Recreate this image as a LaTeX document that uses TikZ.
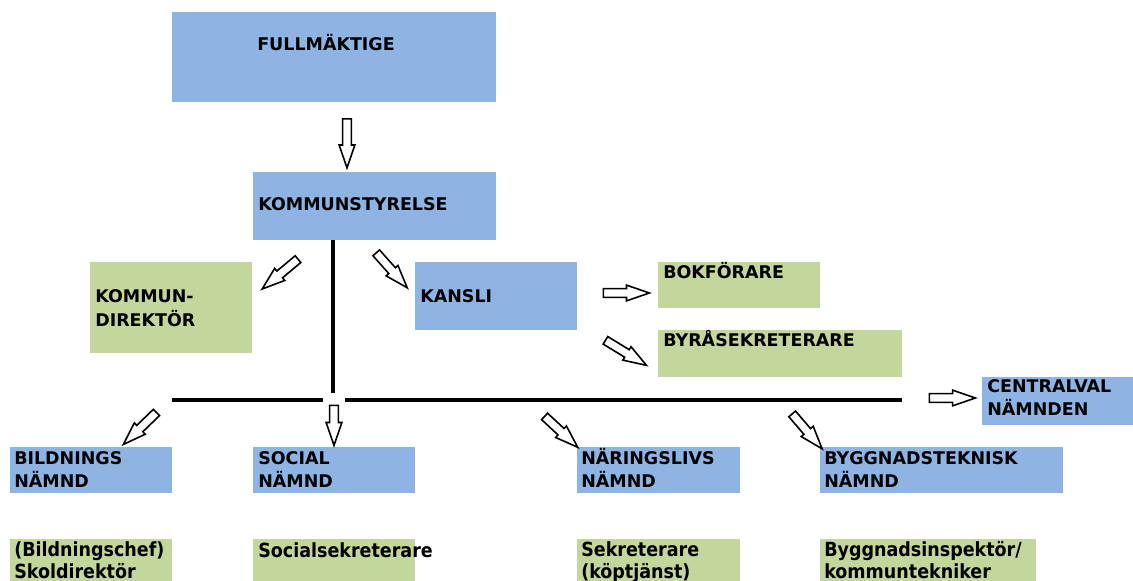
\documentclass[tikz,border=0pt]{standalone}
\usepackage{fontspec}
\setmainfont{DejaVu Sans}
\newfontfamily\condfont{DejaVu Sans Condensed}
\usetikzlibrary{shapes.arrows,fit}
\definecolor{boxblue}{RGB}{141,180,226}
\definecolor{boxgreen}{RGB}{195,214,155}
\begin{document}
\begin{tikzpicture}[x=0.75pt,y=-0.75pt,
 bluebox/.style={fill=boxblue, inner sep=0pt, draw=none},
 greenbox/.style={fill=boxgreen, inner sep=0pt, draw=none},
 lbl/.style={anchor=base west, inner sep=0pt, font=\bfseries\fontsize{13.1}{17.25}\selectfont, align=left},
 sub/.style={anchor=base west, inner sep=0pt, font=\condfont\bfseries\fontsize{14.6}{16.5}\selectfont, align=left},
 barrow/.style={single arrow, draw=black, fill=white, line width=1.2pt, inner sep=2.7pt,
   single arrow head extend=2.6pt, single arrow tip angle=38, minimum height=#1},
 bar/.style={line width=3pt}]
\useasboundingbox (0,0) rectangle (1133,581);
% boxes
\node[bluebox, fit={(172,12)(496,102)}] (full) {};
\node[lbl] (tfull) at (257,51) {FULLMÄKTIGE};
\node[bluebox, fit={(253,172)(496,240)}] (ks) {};
\node[lbl] (tks) at (258,211) {KOMMUNSTYRELSE};
\node[greenbox, fit={(90,262)(252,353)}] (kd) {};
\node[lbl] (tkd) at (95,326) {KOMMUN-\\DIREKTÖR};
\node[bluebox, fit={(415,262)(577,330)}] (kansli) {};
\node[lbl] (tkansli) at (420,303) {KANSLI};
\node[greenbox, fit={(658,262)(820,308)}] (bok) {};
\node[lbl] (tbok) at (663,279) {BOKFÖRARE};
\node[greenbox, fit={(658,330)(902,377)}] (byra) {};
\node[lbl] (tbyra) at (663,347) {BYRÅSEKRETERARE};
\node[bluebox, fit={(982,377)(1133,425)}] (cv) {};
\node[lbl] (tcv) at (987,416) {CENTRALVAL\\NÄMNDEN};
\node[bluebox, fit={(10,447)(172,493)}] (bild) {};
\node[lbl] (tbild) at (14,487) {BILDNINGS\\NÄMND};
\node[bluebox, fit={(253,447)(415,493)}] (soc) {};
\node[lbl] (tsoc) at (258,487) {SOCIAL\\NÄMND};
\node[bluebox, fit={(577,447)(740,493)}] (nar) {};
\node[lbl] (tnar) at (581,487) {NÄRINGSLIVS\\NÄMND};
\node[bluebox, fit={(820,447)(1063,493)}] (bygg) {};
\node[lbl] (tbygg) at (824,487) {BYGGNADSTEKNISK\\NÄMND};
% bottom boxes
\node[greenbox, fit={(10,539)(172,581)}] (b1) {};
\node[sub] (tb1) at (14,578) {(Bildningschef)\\Skoldirektör};
\node[greenbox, fit={(253,539)(415,581)}] (b2) {};
\node[sub] (tb2) at (258,557) {Socialsekreterare};
\node[greenbox, fit={(577,539)(740,581)}] (b3) {};
\node[sub] (tb3) at (581,578) {Sekreterare\\(köptjänst)};
\node[greenbox, fit={(820,539)(1036,581)}] (b4) {};
\node[sub] (tb4) at (824,578) {Byggnadsinspektör/\\kommuntekniker};
% lines
\coordinate (vend) at (333,393);
\coordinate (hl) at (172,400);
\coordinate (g1) at (323,400);
\coordinate (g2) at (345,400);
\coordinate (hr) at (902,400);
\draw[bar] (vend |- ks.south) -- (vend);
\draw[bar] (hl) -- (g1) (g2) -- (hr);
% block arrows
\node[barrow=36.75pt, rotate=-90] (a1) at (347,137) {};
\node[barrow=35pt, rotate=219.8] (a2) at (285,270) {};
\node[barrow=35pt, rotate=-48.5] (a3) at (387.5,265.5) {};
\node[barrow=34.5pt, rotate=0] (a4) at (620,293) {};
\node[barrow=36pt, rotate=-31.4] (a5) at (620.5,349.5) {};
\node[barrow=34.5pt, rotate=224] (a6) at (144.5,424) {};
\node[barrow=30pt, rotate=-90] (a7) at (334,419) {};
\node[barrow=34pt, rotate=-43] (a8) at (556.5,427.5) {};
\node[barrow=34.5pt, rotate=-49.4] (a9) at (803,426.5) {};
\node[barrow=34.5pt, rotate=0] (a10) at (946,398) {};
\end{tikzpicture}
\end{document}
